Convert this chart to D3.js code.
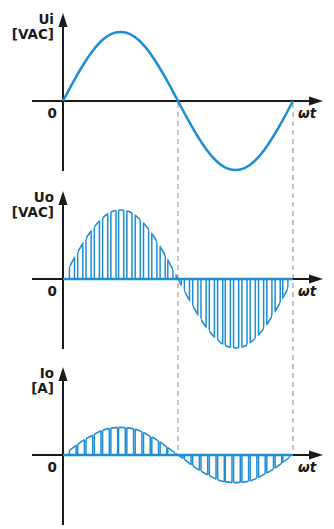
<!DOCTYPE html>
<html>
<head>
<meta charset="utf-8">
<script src="https://cdn.jsdelivr.net/npm/d3@7"></script>
<style>
  body { margin: 0; background: #fff; }
  text { font-family: "DejaVu Sans", sans-serif; font-weight: bold; fill: #1a1a1a; }
</style>
</head>
<body>
<script>
// phase of the samples, degrees
var phase = [0, 15, 30, 45, 60, 75, 90, 105, 120, 135, 150, 165, 180,
             195, 210, 225, 240, 255, 270, 285, 300, 315, 330, 345, 360];
// input voltage (normalised)
var ui = [0, 0.26, 0.5, 0.71, 0.87, 0.97, 1, 0.97, 0.87, 0.71, 0.5, 0.26, 0,
          -0.26, -0.5, -0.71, -0.87, -0.97, -1, -0.97, -0.87, -0.71, -0.5, -0.26, 0];
// output current envelope (normalised to the same scale)
var io = [0, 0.1, 0.2, 0.28, 0.35, 0.39, 0.4, 0.39, 0.35, 0.28, 0.2, 0.1, 0,
          -0.1, -0.2, -0.28, -0.35, -0.39, -0.4, -0.39, -0.35, -0.28, -0.2, -0.1, 0];
// chopper pulses: start angle, degrees
var pulseStart = [10, 23, 36, 49, 62, 75, 87, 100, 113, 126, 139, 152, 164,
                  177, 190, 203, 216, 229, 242, 254, 267, 280, 293, 306, 319, 332, 344];
var uoWidth = 8;    // degrees on
var ioWidth = 10.5;
// half-period markers
var marks = [180, 360];
var panels = [
  {name: "Ui", unit: "[VAC]"},
  {name: "Uo", unit: "[VAC]"},
  {name: "Io", unit: "[A]"}
];

var width = 334, height = 529;
var blue = "#1f8dd6", ink = "#1a1a1a";
var axisY = [101, 279, 455];

var svg = d3.select("body").append("svg")
    .attr("width", width)
    .attr("height", height);
var defs = svg.append("defs");

var x = d3.scaleLinear().domain([0, 360]).range([63, 293]);

function yScale(i) {
  return d3.scaleLinear().domain([-1, 1]).range([axisY[i] + 69, axisY[i] - 69]);
}

// dashed guides at half periods, drawn first so they sit underneath
svg.selectAll(".guide")
    .data(marks)
  .enter().append("line")
    .attr("class", "guide")
    .attr("x1", function(d) { return x(d); })
    .attr("x2", function(d) { return x(d); })
    .attr("y1", axisY[0] + 2)
    .attr("y2", axisY[2])
    .attr("stroke", "#b3b3b3")
    .attr("stroke-width", 1.5)
    .attr("stroke-dasharray", "5,4");

// axes with arrows and labels
panels.forEach(function(p, i) {
  var y0 = axisY[i];
  var g = svg.append("g");
  g.append("line")
      .attr("x1", 32).attr("x2", 312)
      .attr("y1", y0).attr("y2", y0)
      .attr("stroke", ink).attr("stroke-width", 2);
  g.append("path")
      .attr("d", "M323," + y0 + "L309," + (y0 - 4.5) + "L309," + (y0 + 4.5) + "Z")
      .attr("fill", ink);
  g.append("line")
      .attr("x1", 63).attr("x2", 63)
      .attr("y1", y0 + 70).attr("y2", y0 - 76)
      .attr("stroke", ink).attr("stroke-width", 2);
  g.append("path")
      .attr("d", "M63," + (y0 - 88) + "L58.5," + (y0 - 74) + "L67.5," + (y0 - 74) + "Z")
      .attr("fill", ink);

  g.append("text")
      .attr("x", 54).attr("y", y0 - 77)
      .attr("text-anchor", "end")
      .style("font-size", "13.5px")
      .text(p.name);
  g.append("text")
      .attr("x", 54).attr("y", y0 - 62)
      .attr("text-anchor", "end")
      .style("font-size", "13.5px")
      .text(p.unit);
  g.append("text")
      .attr("x", 57).attr("y", y0 + 17)
      .attr("text-anchor", "end")
      .style("font-size", "13.5px")
      .text("0");
  g.append("text")
      .attr("x", 298).attr("y", y0 + 17)
      .style("font-size", "13.5px")
      .style("font-style", "italic")
      .text("ωt");
});

// input voltage: plain sine
var y1 = yScale(0);
var line1 = d3.line()
    .x(function(d, j) { return x(phase[j]); })
    .y(function(d) { return y1(d); })
    .curve(d3.curveNatural);
svg.append("path")
    .datum(ui)
    .attr("d", line1)
    .attr("fill", "none")
    .attr("stroke", blue)
    .attr("stroke-width", 2.5);

// chopped waveforms: outline of each pulse, top following the envelope
function chopped(i, values, pw) {
  var y = yScale(i);
  var line = d3.line()
      .x(function(d, j) { return x(phase[j]); })
      .y(function(d) { return y(d); })
      .curve(d3.curveNatural);
  var area = d3.area()
      .x(function(d, j) { return x(phase[j]); })
      .y0(y(0))
      .y1(function(d) { return y(d); })
      .curve(d3.curveNatural);

  defs.append("clipPath").attr("id", "under" + i)
    .append("path").datum(values).attr("d", area);
  defs.append("clipPath").attr("id", "on" + i)
    .selectAll("rect")
      .data(pulseStart)
    .enter().append("rect")
      .attr("x", function(d) { return x(d); })
      .attr("width", function(d) { return x(d + pw) - x(d); })
      .attr("y", y(1.2))
      .attr("height", y(-1.2) - y(1.2));

  var g = svg.append("g");
  var edges = [];
  pulseStart.forEach(function(d) { edges.push(d, d + pw); });

  g.append("g")
      .attr("clip-path", "url(#under" + i + ")")
    .selectAll("line")
      .data(edges)
    .enter().append("line")
      .attr("x1", function(d) { return x(d); })
      .attr("x2", function(d) { return x(d); })
      .attr("y1", y(1.2))
      .attr("y2", y(-1.2))
      .attr("stroke", blue)
      .attr("stroke-width", 1.5);

  g.append("path")
      .datum(values)
      .attr("clip-path", "url(#on" + i + ")")
      .attr("d", line)
      .attr("fill", "none")
      .attr("stroke", blue)
      .attr("stroke-width", 1.6);

  g.append("line")
      .attr("x1", x(0)).attr("x2", x(360))
      .attr("y1", y(0)).attr("y2", y(0))
      .attr("stroke", blue)
      .attr("stroke-width", 2.5);
}

chopped(1, ui, uoWidth);
chopped(2, io, ioWidth);
</script>
</body>
</html>
